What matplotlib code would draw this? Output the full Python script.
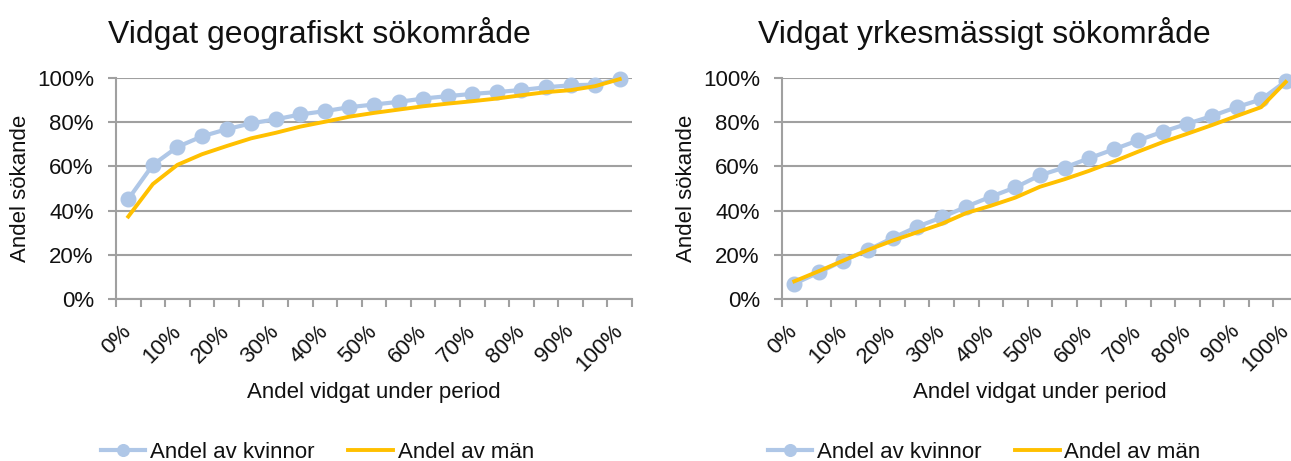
"""
Two-panel line chart: share of job seekers who widened their search area,
geographically and occupationally, split by women and men.
"""

import matplotlib
matplotlib.use("Agg")
import matplotlib.pyplot as plt
import numpy as np
from matplotlib.ticker import FixedLocator, PercentFormatter

plt.rcParams["font.family"] = ["Liberation Sans", "DejaVu Sans"]

# ── Data (percent) ────────────────────────────────────────────────────────────
CATEGORIES = ["0%", "5%", "10%", "15%", "20%", "25%", "30%", "35%", "40%", "45%",
              "50%", "55%", "60%", "65%", "70%", "75%", "80%", "85%", "90%",
              "95%", "100%"]
TICK_LABELS = ["0%", "10%", "20%", "30%", "40%", "50%",
               "60%", "70%", "80%", "90%", "100%"]

GEO_KVINNOR = [45.2, 60.7, 68.8, 73.6, 76.8, 79.5, 81.3, 83.5, 85.0, 86.8, 88.0,
               89.2, 90.7, 91.8, 92.8, 93.6, 94.6, 95.8, 96.7, 97.0, 99.6]
GEO_MAN = [37.3, 52.0, 60.7, 65.5, 69.2, 72.7, 75.2, 78.0, 80.2, 82.5, 84.2,
           85.7, 87.2, 88.4, 89.5, 90.7, 92.2, 93.6, 94.5, 96.3, 99.5]

YRKE_KVINNOR = [6.9, 12.0, 17.4, 22.2, 27.6, 32.7, 36.9, 41.8, 46.3, 50.5, 56.0,
                59.5, 63.7, 67.7, 71.8, 75.7, 79.3, 82.8, 86.8, 90.3, 98.5]
YRKE_MAN = [8.0, 12.6, 17.4, 22.2, 26.4, 30.2, 34.0, 38.9, 42.2, 45.9, 50.8,
            54.2, 58.0, 62.2, 66.7, 71.0, 74.8, 78.7, 82.8, 86.8, 98.2]

TITLES = ["Vidgat geografiskt sökområde", "Vidgat yrkesmässigt sökområde"]
SERIES_NAMES = ["Andel av kvinnor", "Andel av män"]

BLUE = "#AFC7E7"
GOLD = "#FFC000"
GRID = "#A0A0A0"
TEXT = "#111111"

W, H = 1291, 461


def draw_panel(ax, kvinnor, man):
    x = np.arange(len(CATEGORIES))
    ax.plot(x, kvinnor, color=BLUE, linewidth=3.0, marker="o", markersize=10.5,
            clip_on=False, zorder=3, label=SERIES_NAMES[0])
    ax.plot(x, man, color=GOLD, linewidth=2.8, clip_on=False, zorder=4,
            label=SERIES_NAMES[1])

    ax.set_xlim(-0.5, len(CATEGORIES) - 0.5)
    ax.set_ylim(0, 100)
    ax.set_yticks(np.arange(0, 101, 20))
    ax.yaxis.set_major_formatter(PercentFormatter(xmax=100, decimals=0))

    # labelled ticks on every other category, tick marks on category borders
    ax.xaxis.set_major_locator(FixedLocator(x[::2]))
    ax.set_xticklabels(TICK_LABELS, rotation=45, ha="right", va="center",
                       rotation_mode="anchor")
    ax.xaxis.set_minor_locator(FixedLocator(np.arange(-0.5, len(CATEGORIES), 1)))
    ax.tick_params(axis="x", which="major", length=0, pad=21, labelsize=16,
                   labelcolor=TEXT)
    ax.tick_params(axis="x", which="minor", length=6, width=1.5, color=GRID)
    ax.tick_params(axis="y", length=6, width=1.5, color=GRID, pad=10,
                   labelsize=16, labelcolor=TEXT)

    ax.yaxis.grid(True, color=GRID, linewidth=1.5)
    ax.set_axisbelow(True)
    for side in ("top", "right"):
        ax.spines[side].set_visible(False)
    for side in ("left", "bottom"):
        ax.spines[side].set_color(GRID)
        ax.spines[side].set_linewidth(1.5)

    ax.set_xlabel("Andel vidgat under period", fontsize=16, color=TEXT)
    ax.xaxis.set_label_coords(0.5, -0.425)
    ax.xaxis.label.set_va("center")
    ax.set_ylabel("Andel sökande", fontsize=16, color=TEXT)
    ax.yaxis.set_label_coords(-0.186, 0.5)
    ax.yaxis.label.set_va("center")


def main():
    fig = plt.figure(figsize=(W / 100, H / 100), dpi=100)

    panels = [(116, GEO_KVINNOR, GEO_MAN, 108, 101),
              (782, YRKE_KVINNOR, YRKE_MAN, 758, 768)]
    for (left_px, kv, ma, title_px, legend_px), title in zip(panels, TITLES):
        ax = fig.add_axes([left_px / W, 1 - 299 / H, 516 / W, 221 / H])
        draw_panel(ax, kv, ma)
        fig.text(title_px / W, 1 - 43 / H, title, fontsize=23, color=TEXT,
                 va="baseline", ha="left")
        handles, labels = ax.get_legend_handles_labels()
        fig.legend(handles, labels, loc="center left",
                   bbox_to_anchor=(legend_px / W, 1 - 452 / H),
                   ncol=2, frameon=False, fontsize=16, borderpad=0,
                   borderaxespad=0, handlelength=2.0, handletextpad=0.22,
                   columnspacing=1.5, markerscale=0.8, labelcolor=TEXT)

    fig.savefig("out.png", dpi=100)
    plt.close(fig)


if __name__ == "__main__":
    main()
